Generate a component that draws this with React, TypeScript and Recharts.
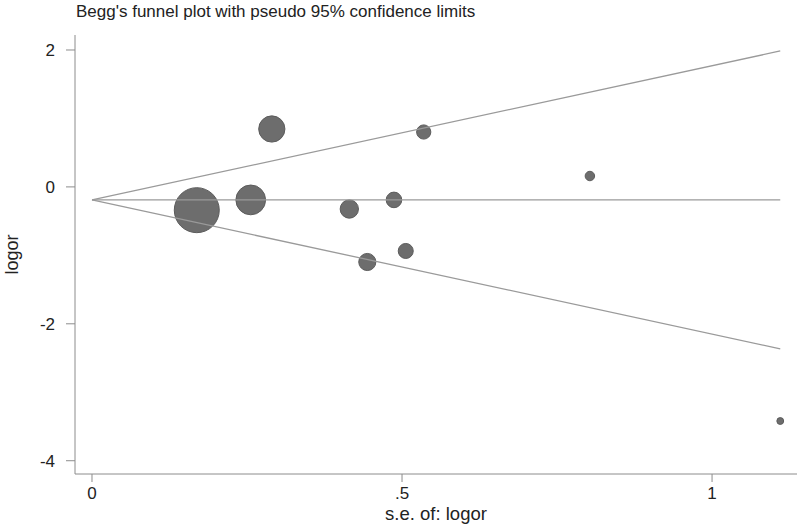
import React from 'react';
import { ScatterChart, Scatter, XAxis, YAxis, ZAxis, Label } from 'recharts';

// study estimates
const studySe = [0.169, 0.256, 0.29, 0.415, 0.444, 0.487, 0.506, 0.535, 0.803, 1.11];
const studyLogor = [-0.34, -0.19, 0.846, -0.323, -1.097, -0.19, -0.936, 0.802, 0.159, -3.42];
// marker weights (1 / se^2)
const studyWeight = [35, 15.3, 11.9, 5.8, 5.07, 4.2, 3.9, 3.5, 1.55, 0.81];

// pooled estimate and pseudo 95% limits, from se = 0 to the largest se
const limitSe = [0, 1.11];
const pooled = [-0.19, -0.19];
const upperLimit = [-0.19, 1.986];
const lowerLimit = [-0.19, -2.366];

const xTicks = [0, 0.5, 1];
const yTicks = [-4, -2, 0, 2];

const studies = studySe.map((se, i) => ({ se, y: studyLogor[i], w: studyWeight[i] }));
const toLine = (ys: number[]) => limitSe.map((se, i) => ({ se, y: ys[i] }));

const font = '"Liberation Sans", Arial, sans-serif';
const lineColor = '#9a9a9a';
const noDot = () => <g />;

const App: React.FC = () => {
    return (
        <div style={{ position: 'absolute', left: 0, top: 0, width: 800, height: 526, background: '#fff', fontFamily: font }}>
            <div style={{ position: 'absolute', left: 76, top: 1, fontSize: 17, lineHeight: '22px', color: '#222', whiteSpace: 'nowrap' }}>
                Begg's funnel plot with pseudo 95% confidence limits
            </div>
            <ScatterChart width={800} height={526} margin={{ top: 35, right: 3, bottom: 0, left: 0 }}>
                <XAxis
                    type="number"
                    dataKey="se"
                    domain={[-0.0274, 1.137]}
                    ticks={xTicks}
                    tickFormatter={(v: number) => (v === 0.5 ? '.5' : String(v))}
                    allowDataOverflow
                    height={52}
                    stroke="#8c8c8c"
                    tickSize={8}
                    tickMargin={5}
                    tick={{ fill: '#222', fontSize: 17, fontFamily: font }}
                >
                    <Label value="s.e. of: logor" position="insideBottom" offset={6} style={{ fill: '#222', fontSize: 18.5, fontFamily: font }} />
                </XAxis>
                <YAxis
                    type="number"
                    dataKey="y"
                    domain={[-4.194, 2.219]}
                    ticks={yTicks}
                    allowDataOverflow
                    width={75}
                    stroke="#8c8c8c"
                    tickSize={9}
                    tickMargin={11}
                    tick={{ fill: '#222', fontSize: 17, fontFamily: font }}
                >
                    <Label value="logor" angle={-90} position="insideLeft" offset={12} style={{ fill: '#222', fontSize: 18, fontFamily: font, textAnchor: 'middle' }} />
                </YAxis>
                <ZAxis type="number" dataKey="w" domain={[0, 35]} range={[0, 1590]} />
                <Scatter data={studies} fill="#6d6d6d" stroke="#5c5c5c" strokeWidth={1} isAnimationActive={false} />
                <Scatter data={toLine(pooled)} line={{ stroke: lineColor, strokeWidth: 1.3 }} shape={noDot} isAnimationActive={false} />
                <Scatter data={toLine(upperLimit)} line={{ stroke: lineColor, strokeWidth: 1.3 }} shape={noDot} isAnimationActive={false} />
                <Scatter data={toLine(lowerLimit)} line={{ stroke: lineColor, strokeWidth: 1.3 }} shape={noDot} isAnimationActive={false} />
            </ScatterChart>
        </div>
    );
};

export default App;
